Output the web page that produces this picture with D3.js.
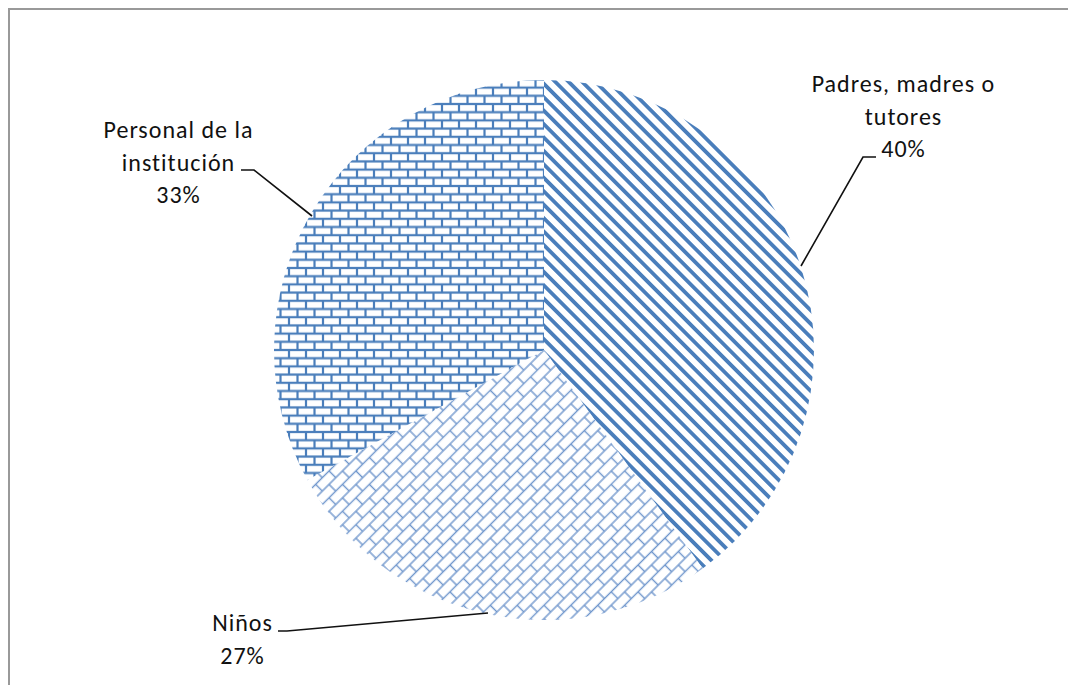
<!DOCTYPE html>
<html>
<head>
<meta charset="utf-8">
<script src="https://cdn.jsdelivr.net/npm/d3@7"></script>
<style>
  html, body { margin: 0; padding: 0; background: #fff; }
  svg { display: block; }
  text { font-family: Carlito, Calibri, Lato, "Open Sans", sans-serif; fill: #111; }
</style>
</head>
<body>
<svg id="chart" width="1068" height="685"></svg>
<script>
// Respondents by group (share, %)
const categories = ["Padres, madres o tutores", "Niños", "Personal de la institución"];
const values = [40, 27, 33];
const labelLines = [["Padres, madres o", "tutores", "40%"], ["Niños", "27%"], ["Personal de la", "institución", "33%"]];
const fills = ["stripes", "diagBrick", "brick"];

const W = 1068, H = 685;
const cx = 544, cy = 350, R = 270;
const blue = "#4a7ebb";

const svg = d3.select("#chart");
const defs = svg.append("defs");

// Wide downward diagonal stripes
const sp = 9.5;
const stripes = defs.append("pattern")
  .attr("id", "stripes").attr("patternUnits", "userSpaceOnUse")
  .attr("width", sp).attr("height", sp)
  .attr("patternTransform", "rotate(45)");
stripes.append("rect").attr("width", sp).attr("height", sp).attr("fill", "#fff");
stripes.append("rect").attr("y", 0).attr("width", sp).attr("height", 3.8).attr("fill", blue);

// Brick patterns (horizontal and diagonal)
function brick(id, bw, bh, sw, color, rot) {
  const p = defs.append("pattern")
    .attr("id", id).attr("patternUnits", "userSpaceOnUse")
    .attr("width", bw).attr("height", bh * 2);
  if (rot) p.attr("patternTransform", `rotate(${rot})`);
  p.append("rect").attr("width", bw).attr("height", bh * 2).attr("fill", "#fff");
  const g = p.append("g").attr("stroke", color).attr("stroke-width", sw).attr("fill", "none");
  g.append("line").attr("x1", 0).attr("x2", bw).attr("y1", 0).attr("y2", 0);
  g.append("line").attr("x1", 0).attr("x2", bw).attr("y1", bh).attr("y2", bh);
  g.append("line").attr("x1", 0).attr("x2", bw).attr("y1", bh * 2).attr("y2", bh * 2);
  g.append("line").attr("x1", 0).attr("x2", 0).attr("y1", 0).attr("y2", bh);
  g.append("line").attr("x1", bw).attr("x2", bw).attr("y1", 0).attr("y2", bh);
  g.append("line").attr("x1", bw / 2).attr("x2", bw / 2).attr("y1", bh).attr("y2", bh * 2);
}
brick("brick", 17, 8.2, 2.2, blue, 0);
brick("diagBrick", 19, 9.5, 1.4, "#6f96cc", -45);

// Frame
svg.append("path")
  .attr("d", `M9,${H} V9 H${W}`)
  .attr("fill", "none").attr("stroke", "#999").attr("stroke-width", 2);

// Pie
const pie = d3.pie().sort(null).value(d => d)(values);
const arc = d3.arc().innerRadius(0).outerRadius(R);

const g = svg.append("g").attr("transform", `translate(${cx},${cy})`);
g.selectAll("path.slice")
  .data(pie)
  .join("path")
  .attr("class", "slice")
  .attr("d", arc)
  .attr("fill", (d, i) => `url(#${fills[i]})`);

// Leader lines and labels
const leaders = [
  { line: [[801, 266], [863, 157], [876, 157]], x: 903, y: 92 },
  { line: [[488, 613], [287, 631], [278, 631]], x: 242, y: 631 },
  { line: [[312, 216], [254, 170], [241, 170]], x: 178, y: 138 }
];
const lineGen = d3.line();
leaders.forEach((L, i) => {
  svg.append("path").attr("d", lineGen(L.line))
    .attr("fill", "none").attr("stroke", "#111").attr("stroke-width", 1.6);
  const t = svg.append("text").attr("text-anchor", "middle")
    .attr("font-size", 24).attr("letter-spacing", 1);
  labelLines[i].forEach((s, k) => {
    t.append("tspan").attr("x", L.x + 0.5).attr("y", L.y + k * 32.5).text(s);
  });
});
</script>
</body>
</html>
